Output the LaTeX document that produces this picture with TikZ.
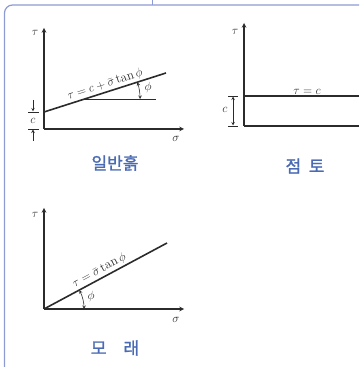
\documentclass[tikz,border=0pt]{standalone}
\usepackage{fontspec}
\newfontfamily\krfont[FakeBold=1.4]{Noto Sans CJK KR}
\definecolor{framecol}{HTML}{8E9AD4}
\definecolor{titlecol}{HTML}{4A6AB4}
\definecolor{inkcol}{HTML}{2B2B2B}
\begin{document}
\begin{tikzpicture}[x=1pt,y=1pt,>=stealth,
  axis/.style={draw=inkcol, line width=1.1pt},
  law/.style={draw=inkcol, line width=1.6pt},
  aux/.style={draw=inkcol, line width=0.6pt},
  title/.style={text=titlecol, font=\krfont\fontsize{17}{20}\selectfont},
  lbl/.style={text=inkcol, font=\fontsize{12.5}{14}\selectfont, inner sep=1pt},
  eqn/.style={text=inkcol, font=\fontsize{13}{15}\selectfont, inner sep=1.5pt}]
\useasboundingbox (0,0) rectangle (359,367);
% frame
\draw[framecol, line width=1.2pt, rounded corners=8pt] (4.5,0) -- (4.5,362) -- (359,362);
\draw[framecol, line width=1.2pt] (152.7,362) -- (152.7,367);

% general soil
\coordinate (o1) at (44,238);
\coordinate (t1) at (44,339);
\coordinate (s1) at (184,238);
\coordinate (c1) at (44,255);
\coordinate (e1) at (166,294);
\coordinate (h1) at (85,268);
\coordinate (h1e) at (156,268);
\draw[axis, ->] (o1) -- (t1);
\draw[axis, ->] (o1) -- (s1);
\draw[law] (c1) -- (e1) node[eqn, sloped, above, pos=0.52] (law1) {$\tau = c + \bar\sigma \tan\phi$};
\draw[aux] (h1) -- (h1e);
\draw[aux, <->] ([shift={(0:55)}]h1) arc[start angle=0, end angle=17.7, radius=55];
\node[lbl] (phi1) at (148,279) {$\phi$};
\node[lbl] (tau1) at (35,334) {$\tau$};
\node[lbl] (sig1) at (176,228) {$\sigma$};
\coordinate (k1a) at (28,255);
\coordinate (k1b) at (39,255);
\coordinate (k1c) at (28,238);
\coordinate (k1d) at (39,238);
\coordinate (a1a) at (33,267);
\coordinate (a1b) at (33,255.5);
\coordinate (a1c) at (33,226);
\coordinate (a1d) at (33,237.5);
\draw[aux] (k1a) -- (k1b);
\draw[aux] (k1c) -- (k1d);
\draw[aux, ->] (a1a) -- (a1b);
\draw[aux, ->] (a1c) -- (a1d);
\node[lbl] (cc1) at (33,246.5) {$c$};
\node[title] (name1) at (115,204) {일반흙};

% clay
\coordinate (o2) at (244,241);
\coordinate (t2) at (244,344);
\coordinate (s2) at (359,241);
\coordinate (c2) at (244,271);
\coordinate (e2) at (359,271);
\draw[axis, ->] (o2) -- (t2);
\draw[law] (o2) -- (s2);
\draw[law] (c2) -- (e2);
\node[eqn, above] (law2) at (307,271) {$\tau = c$};
\node[lbl] (tau2) at (235,335) {$\tau$};
\coordinate (k2a) at (228,271);
\coordinate (k2b) at (238,271);
\coordinate (k2c) at (228,241);
\coordinate (k2d) at (238,241);
\coordinate (a2a) at (233,270.5);
\coordinate (a2b) at (233,241.5);
\draw[aux] (k2a) -- (k2b);
\draw[aux] (k2c) -- (k2d);
\draw[aux, <->] (a2a) -- (a2b);
\node[lbl] (cc2) at (225,257) {$c$};
\node[title] (name2) at (305,201) {점\hspace{0.45em}토};

% sand
\coordinate (o3) at (44,58);
\coordinate (t3) at (44,159);
\coordinate (s3) at (184,58);
\coordinate (e3) at (167,124);
\draw[axis, ->] (o3) -- (t3);
\draw[axis, ->] (o3) -- (s3);
\draw[law] (o3) -- (e3) node[eqn, sloped, above, pos=0.48] (law3) {$\tau = \bar\sigma \tan\phi$};
\draw[aux, <->] ([shift={(0:40)}]o3) arc[start angle=0, end angle=28.2, radius=40];
\node[lbl] (phi3) at (91,70) {$\phi$};
\node[lbl] (tau3) at (35,152) {$\tau$};
\node[lbl] (sig3) at (176,47) {$\sigma$};
\node[title] (name3) at (115,19) {모\hspace{1em}래};
\end{tikzpicture}
\end{document}
